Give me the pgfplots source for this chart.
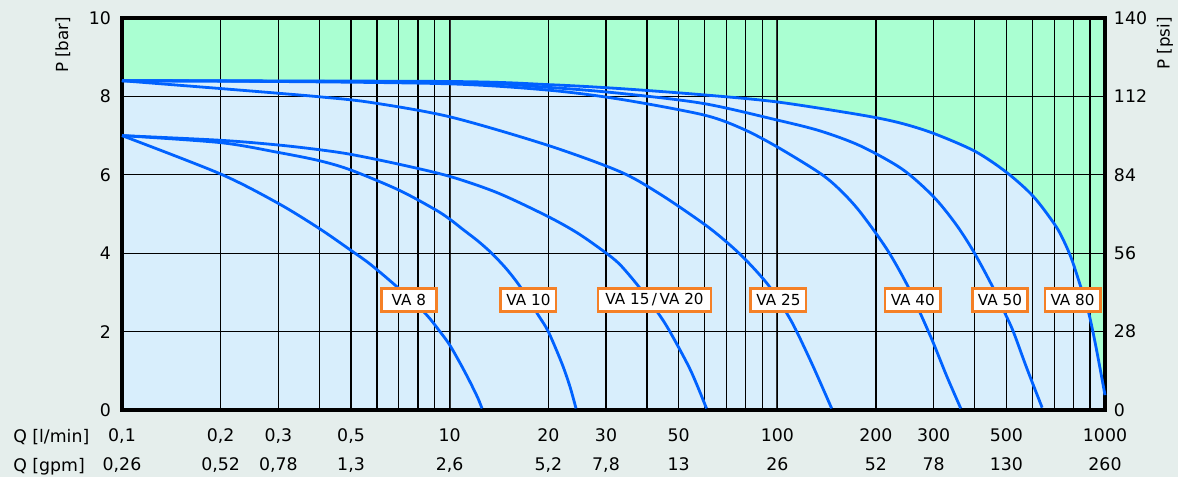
\documentclass[border=0pt]{standalone}
\usepackage{pgfplots}
\pgfplotsset{compat=1.18}
\usepackage{fontspec}
\setmainfont{DejaVu Sans}
\definecolor{figbg}{RGB}{229,238,236}
\definecolor{areagreen}{RGB}{170,255,210}
\definecolor{areablue}{RGB}{216,238,252}
\definecolor{curveblue}{RGB}{0,98,255}
\definecolor{boxorange}{RGB}{245,128,38}
\tikzset{lbl/.style={draw=boxorange, fill=white, line width=2pt, minimum width=41.5pt, minimum height=17.5pt, inner sep=2.5pt, font=\fontsize{11.4}{12}\selectfont},
  crv/.style={curveblue, line width=2.1pt, smooth, mark=none}}
\pgfplotstableread{
x y
1 8.4
10 8.38
20 8.3
33 8.2
59.4 8.04
99.5 7.86
179 7.53
235 7.33
299 7.06
401 6.6
501 6.06
604 5.45
704 4.72
750 4.3
791 3.85
839 3.2
889 2.52
921 1.95
954 1.3
1000 0.38
}\vaeighty
\pgfplotstableread{
x y
1 7.0
2 6.02
3 5.27
4 4.63
5 4.07
5.72 3.72
6.89 3.15
8.41 2.47
9.34 2.0
10 1.66
10.77 1.19
11.5 0.74
12.2 0.30
12.55 0.04
}\vaeight
\pgfplotstableread{
x y
1 7.0
2 6.82
3 6.57
4 6.36
5 6.12
7 5.61
9 5.12
10 4.87
11 4.6
12.2 4.31
13.43 4.0
14.9 3.6
16.4 3.15
18.64 2.42
20 2.0
22 1.19
23.3 0.59
24.3 0.04
}\vaten
\pgfplotstableread{
x y
1 7.0
2 6.88
3 6.76
4 6.64
5 6.52
7 6.27
10 5.96
14 5.54
19.8 4.95
24.5 4.52
29.5 4.05
33 3.72
38 3.12
43.3 2.47
47 2.0
54.3 1.02
60.8 0.04
}\vafifteen
\pgfplotstableread{
x y
1 8.4
2 8.2
3 8.08
4 7.99
5.7 7.85
10 7.48
19.8 6.76
33.1 6.08
44 5.5
59.4 4.76
69 4.33
79.7 3.85
93.8 3.19
106.8 2.47
114.6 2.0
128.8 1.1
146.5 0.04
}\vatwentyfive
\pgfplotstableread{
x y
1 8.4
3 8.38
10 8.32
20 8.16
33 7.93
59.4 7.53
78 7.18
99.5 6.72
135 6.04
156 5.6
179 5.05
216 4.1
248 3.22
272 2.5
299 1.72
329 0.86
363 0.04
}\vaforty
\pgfplotstableread{
x y
1 8.4
10 8.36
20 8.23
33 8.08
59.4 7.82
99.5 7.4
135 7.12
179 6.74
240 6.15
299 5.45
350 4.75
396 4.06
451 3.19
495 2.47
525 2.0
577 1.07
643 0.06
}\vafifty
\begin{document}
\begin{tikzpicture}
\fill[figbg] (-91.5pt,-50.25pt) rectangle (792pt,307.5pt);
\begin{axis}[
  xmode=log, scale only axis, width=737.25pt, height=294pt,
  xmin=1, xmax=1000, ymin=0, ymax=10,
  axis on top,
  axis background/.style={fill=areagreen},
  xtick={1,2,3,5,10,20,30,50,100,200,300,500,1000},
  xticklabels={{0,1\\0,26},{0,2\\0,52},{0,3\\0,78},{0,5\\1,3},{10\\2,6},{20\\5,2},{30\\7,8},{50\\13},{100\\26},{200\\52},{300\\78},{500\\130},{1000\\260}},
  minor xtick={4,6,7,8,9,40,60,70,80,90,400,600,700,800,900},
  ytick={0,2,4,6,8,10},
  grid=both,
  major grid style={black, line width=0.9pt},
  minor grid style={black, line width=0.9pt},
  major tick length=0pt, minor tick length=0pt,
  tick style={draw=none},
  axis line style={line width=2.4pt},
  tick label style={font=\fontsize{13}{21.75}\selectfont},
  xticklabel style={align=center, anchor=north, yshift=-10.4pt},
  yticklabel style={xshift=-4.7pt},
  /pgf/number format/assume math mode=true,
]
\addplot[fill=areablue, draw=none, smooth] table {\vaeighty} \closedcycle;
\addplot[black!80, line width=1.5pt] coordinates {(10,0) (10,10)};
\addplot[black!80, line width=1.5pt] coordinates {(100,0) (100,10)};
\end{axis}
\begin{axis}[
  xmode=log, scale only axis, width=737.25pt, height=294pt,
  xmin=1, xmax=1000, ymin=0, ymax=10,
  hide x axis,
  axis line style={draw=none},
  ytick={0,2,4,6,8,10},
  yticklabels={0,28,56,84,112,140},
  yticklabel pos=right,
  major tick length=0pt, tick style={draw=none},
  tick label style={font=\fontsize{13}{21.75}\selectfont},
  yticklabel style={xshift=3.2pt},
  clip=false,
]
\addplot[crv] table {\vaeight};
\addplot[crv] table {\vaten};
\addplot[crv] table {\vafifteen};
\addplot[crv] table {\vatwentyfive};
\addplot[crv] table {\vaforty};
\addplot[crv] table {\vafifty};
\addplot[crv] table {\vaeighty};
\node[lbl] at (axis cs:7.51,2.81) {VA 8};
\node[lbl] at (axis cs:17.4,2.81) {VA 10};
\node[lbl, inner xsep=5.5pt] at (axis cs:42.2,2.81) {VA 15\,/\,VA 20};
\node[lbl] at (axis cs:100.8,2.81) {VA 25};
\node[lbl] at (axis cs:259,2.81) {VA 40};
\node[lbl] at (axis cs:478,2.81) {VA 50};
\node[lbl] at (axis cs:796,2.81) {VA 80};
\end{axis}
\node[rotate=90, font=\fontsize{12.5}{14}\selectfont] at (-44.25pt,273.75pt) {P [bar]};
\node[rotate=90, font=\fontsize{12.5}{14}\selectfont] at (782.25pt,274.9pt) {P [psi]};
\node[anchor=base west, inner sep=0pt, font=\fontsize{13}{14}\selectfont] at (-81.75pt,-24.24pt) {Q [l/min]};
\node[anchor=base west, inner sep=0pt, font=\fontsize{13}{14}\selectfont] at (-81.75pt,-45.99pt) {Q [gpm]};
\end{tikzpicture}
\end{document}
